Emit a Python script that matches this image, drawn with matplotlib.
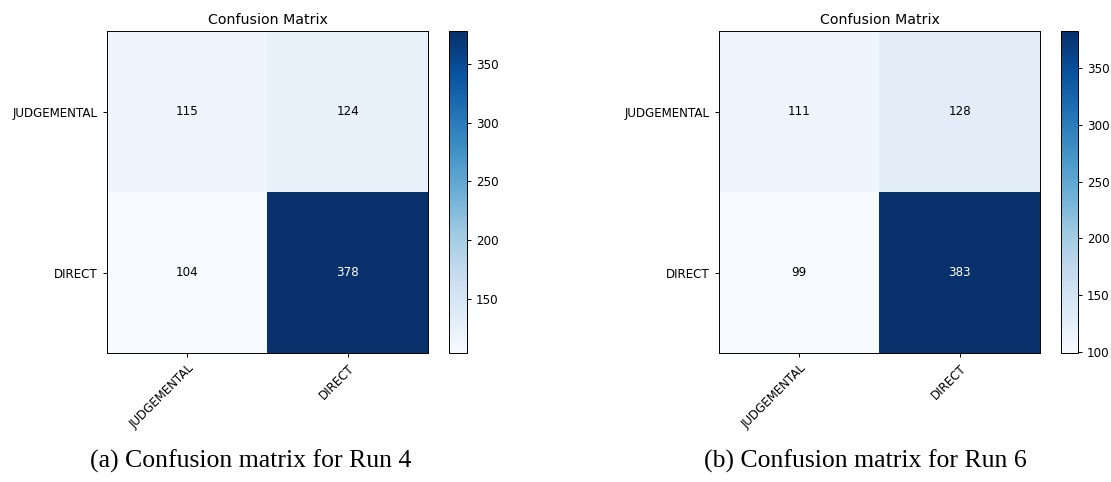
import numpy as np
import matplotlib
matplotlib.use("Agg")
import matplotlib.pyplot as plt

labels = ['JUDGEMENTAL', 'DIRECT']
run4 = [[115, 124],
        [104, 378]]
run6 = [[111, 128],
        [99, 383]]
captions = ['(a) Confusion matrix for Run 4', '(b) Confusion matrix for Run 6']

plt.rcParams['font.size'] = 8.6
plt.rcParams['xtick.major.size'] = 2.9
plt.rcParams['ytick.major.size'] = 2.9
plt.rcParams['axes.linewidth'] = 0.7
plt.rcParams['xtick.major.width'] = 0.7
plt.rcParams['ytick.major.width'] = 0.7

fig = plt.figure(figsize=(11.11, 4.82), dpi=100)
W, H = 1111, 482


def box(x0, y0, x1, y1):
    return [x0 / W, 1 - y1 / H, (x1 - x0) / W, (y1 - y0) / H]


panels = [
    (run4, box(107, 31, 428, 353), box(449, 31, 467, 353), 251),
    (run6, box(719, 31, 1040, 353), box(1061, 31, 1078, 353), 865),
]

for (cm, ax_box, cb_box, cap_x), cap in zip(panels, captions):
    cm = np.array(cm)
    ax = fig.add_axes(ax_box)
    im = ax.imshow(cm, interpolation='nearest', cmap=plt.cm.Blues, aspect='auto')
    ax.set_title('Confusion Matrix', fontsize=10.2, pad=5)
    ax.set_xticks(range(len(labels)))
    ax.set_xticklabels(labels, rotation=45, ha='right', rotation_mode='anchor')
    ax.set_yticks(range(len(labels)))
    ax.set_yticklabels(labels)
    thresh = cm.max() / 2.0
    for i in range(cm.shape[0]):
        for j in range(cm.shape[1]):
            ax.text(j, i, str(cm[i, j]), ha='center', va='center',
                    color='white' if cm[i, j] > thresh else 'black')
    cax = fig.add_axes(cb_box)
    cb = fig.colorbar(im, cax=cax)
    cb.outline.set_linewidth(0.7)
    fig.text(cap_x / W, 1 - 461 / H, cap, ha='center', va='center',
             family='Liberation Serif', fontsize=18.5)

fig.savefig('out.png', dpi=100)
